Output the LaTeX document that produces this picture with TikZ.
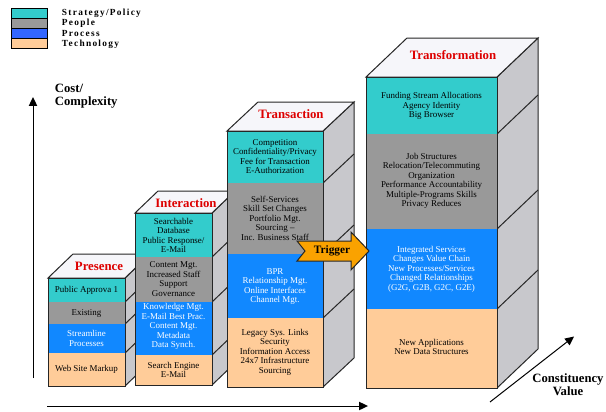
\documentclass[tikz,border=0pt]{standalone}
\usepackage{fontspec}
\setmainfont{Liberation Serif}

\definecolor{stratcol}{RGB}{51,204,204}
\definecolor{peoplecol}{RGB}{153,153,153}
\definecolor{proccol}{RGB}{17,136,255}
\definecolor{legproc}{RGB}{51,102,255}
\definecolor{techcol}{RGB}{255,204,153}
\definecolor{sidecol}{RGB}{200,200,204}
\definecolor{roofcol}{RGB}{246,246,250}
\definecolor{titlecol}{RGB}{221,0,0}
\definecolor{trigcol}{RGB}{250,162,0}

\tikzset{every picture/.style={line width=0.75pt}}
\tikzset{
  boxtext/.style={align=center, font=\fontsize{6.7}{7.1}\selectfont},
  boxtextw/.style={boxtext, text=white},
  rooftitle/.style={font=\fontsize{9.6}{11}\selectfont\bfseries, text=titlecol},
  axislabel/.style={font=\fontsize{9.5}{9.75}\selectfont\bfseries},
  legendtext/.style={anchor=west, font=\fontsize{7}{8}\selectfont\bfseries\addfontfeature{LetterSpace=14}},
  sideface/.style={fill=sidecol, draw=black!85},
  roofface/.style={fill=roofcol, draw=black!85},
  frontedge/.style={draw=black!85},
}

\begin{document}
\begin{tikzpicture}[x=0.75pt,y=0.75pt,yscale=-1,xscale=1]
\useasboundingbox (0,0) rectangle (606,411);

%Legend
\draw [fill=stratcol] (11,8) rectangle (47,18) ;
\draw [fill=peoplecol] (11,18) rectangle (47,28) ;
\draw [fill=legproc] (11,28) rectangle (47,38) ;
\draw [fill=techcol] (11,38) rectangle (47,48) ;
% Text Node
\draw (57,13) node [legendtext] (legStrat) {Strategy/Policy};
\draw (57,23) node [legendtext] (legPeople) {People};
\draw (57,33) node [legendtext] (legProc) {Process};
\draw (57,44) node [legendtext] (legTech) {Technology};

%Shape: Box Presence
\draw [sideface] (125,278) -- (150,254) -- (150,362) -- (125,386) -- cycle ;
\draw [draw=black!85] (125,302) -- (150,278) ;
\draw [draw=black!85] (125,324) -- (150,300) ;
\draw [draw=black!85] (125,353) -- (150,329) ;
\draw [roofface] (48,278) -- (73,254) -- (150,254) -- (125,278) -- cycle ;
\fill [stratcol] (48,278) rectangle (125,302) ;
\fill [peoplecol] (48,302) rectangle (125,324) ;
\fill [proccol] (48,324) rectangle (125,353) ;
\fill [techcol] (48,353) rectangle (125,386) ;
\draw [frontedge] (48,278) rectangle (125,386) ;
% Text Node
\draw (99,266) node [rooftitle] (presTitle) {Presence};
\draw (86.5,290) node [boxtext] (presStrat) {Public Approva 1};
\draw (86.5,313) node [boxtext] (presPeople) {Existing};
\draw (86.5,338.5) node [boxtextw] (presProc) {Streamline\\Processes};
\draw (86.5,369.5) node [boxtext] (presTech) {Web Site Markup};

%Shape: Box Interaction
\draw [sideface] (212,213) -- (235,191) -- (235,363) -- (212,385) -- cycle ;
\draw [draw=black!85] (212,257) -- (235,235) ;
\draw [draw=black!85] (212,302) -- (235,280) ;
\draw [draw=black!85] (212,355) -- (235,333) ;
\draw [roofface] (135,213) -- (158,191) -- (235,191) -- (212,213) -- cycle ;
\fill [stratcol] (135,213) rectangle (212,257) ;
\fill [peoplecol] (135,257) rectangle (212,302) ;
\fill [proccol] (135,302) rectangle (212,355) ;
\fill [techcol] (135,355) rectangle (212,385) ;
\draw [frontedge] (135,213) rectangle (212,385) ;
% Text Node
\draw (186,203) node [rooftitle] (interTitle) {Interaction};
\draw (173.5,235.5) node [boxtext] (interStrat) {Searchable\\Database\\Public Response/\\E-Mail};
\draw (173.5,279) node [boxtext] (interPeople) {Content Mgt.\\Increased Staff\\Support\\Governance};
\draw (173.5,326.5) node [boxtextw] (interProc) {Knowledge Mgt.\\E-Mail Best Prac.\\Content Mgt.\\Metadata\\Data Synch.};
\draw (173.5,370) node [boxtext] (interTech) {Search Engine\\E-Mail};

%Shape: Box Transaction
\draw [sideface] (323,131) -- (354,102) -- (354,358) -- (323,387) -- cycle ;
\draw [draw=black!85] (323,183) -- (354,154) ;
\draw [draw=black!85] (323,254) -- (354,225) ;
\draw [draw=black!85] (323,318) -- (354,289) ;
\draw [roofface] (227,131) -- (258,102) -- (354,102) -- (323,131) -- cycle ;
\fill [stratcol] (227,131) rectangle (323,183) ;
\fill [peoplecol] (227,183) rectangle (323,254) ;
\fill [proccol] (227,254) rectangle (323,318) ;
\fill [techcol] (227,318) rectangle (323,387) ;
\draw [frontedge] (227,131) rectangle (323,387) ;
% Text Node
\draw (291,114) node [rooftitle] (transTitle) {Transaction};
\draw (275,156.5) node [boxtext] (transStrat) {Competition\\Confidentiality/Privacy\\Fee for Transaction\\E-Authorization};
\draw (275,218) node [boxtext] (transPeople) {Self-Services\\Skill Set Changes\\Portfolio Mgt.\\Sourcing --\\Inc. Business Staff};
\draw (275,286.5) node [boxtextw] (transProc) {BPR\\Relationship Mgt.\\Online Interfaces\\Channel Mgt.};
\draw (275,352) node [boxtext] (transTech) {Legacy Sys. Links\\Security\\Information Access\\24x7 Infrastructure\\Sourcing};

%Shape: Box Transformation
\draw [sideface] (497,77) -- (538,38) -- (538,349) -- (497,388) -- cycle ;
\draw [draw=black!85] (497,134) -- (538,95) ;
\draw [draw=black!85] (497,229) -- (538,190) ;
\draw [draw=black!85] (497,309) -- (538,270) ;
\draw [roofface] (366,77) -- (407,38) -- (538,38) -- (497,77) -- cycle ;
\fill [stratcol] (366,77) rectangle (497,134) ;
\fill [peoplecol] (366,134) rectangle (497,229) ;
\fill [proccol] (366,229) rectangle (497,309) ;
\fill [techcol] (366,309) rectangle (497,388) ;
\draw [frontedge] (366,77) rectangle (497,388) ;
% Text Node
\draw (453,55) node [rooftitle] (transfTitle) {Transformation};
\draw (431.5,106) node [boxtext] (transfStrat) {Funding Stream Allocations\\Agency Identity\\Big Browser};
\draw (431.5,181) node [boxtext] (transfPeople) {Job Structures\\Relocation/Telecommuting\\Organization\\Performance Accountability\\Multiple-Programs Skills\\Privacy Reduces};
\draw (431.5,269) node [boxtextw] (transfProc) {Integrated Services\\Changes Value Chain\\New Processes/Services\\Changed Relationships\\(G2G, G2B, G2C, G2E)};
\draw (431.5,347) node [boxtext] (transfTech) {New Applications\\New Data Structures};

%Shape: Arrow Trigger
\draw [fill=trigcol, draw=black!85] (297,241) -- (351,241) -- (351,232) -- (369,251) -- (351,270) -- (351,261) -- (297,261) -- (305,251) -- cycle ;
% Text Node
\draw (332,251) node [font=\fontsize{8.5}{10}\selectfont\bfseries] (trigText) {Trigger};

%Straight Lines: Cost axis
\coordinate (costS) at (33,378) ;
\coordinate (costE) at (33,99) ;
\draw (costS) -- (costE) ;
\draw [shift={(33,97)}, rotate = 90] [fill={rgb, 255:red, 0; green, 0; blue, 0 }  ][line width=0.75]  [draw opacity=0] (8.93,-4.29) -- (0,0) -- (8.93,4.29) -- cycle    ;

%Straight Lines: Time axis
\coordinate (timeS) at (47,406) ;
\coordinate (timeE) at (366,406) ;
\draw (timeS) -- (timeE) ;
\draw [shift={(368,406)}, rotate = 180] [fill={rgb, 255:red, 0; green, 0; blue, 0 }  ][line width=0.75]  [draw opacity=0] (8.93,-4.29) -- (0,0) -- (8.93,4.29) -- cycle    ;

%Straight Lines: Value axis
\coordinate (valS) at (490,402) ;
\coordinate (valE) at (572,338) ;
\draw (valS) -- (valE) ;
\draw [shift={(574,336.5)}, rotate = 141.94] [fill={rgb, 255:red, 0; green, 0; blue, 0 }  ][line width=0.75]  [draw opacity=0] (8.93,-4.29) -- (0,0) -- (8.93,4.29) -- cycle    ;

% Text Node
\draw (50,96.5) node [axislabel, anchor=west, align=left] (costLabel) {Cost/\\Complexity};
\draw (568,384.5) node [axislabel, align=center] (valLabel) {Constituency\\Value};

\end{tikzpicture}
\end{document}
